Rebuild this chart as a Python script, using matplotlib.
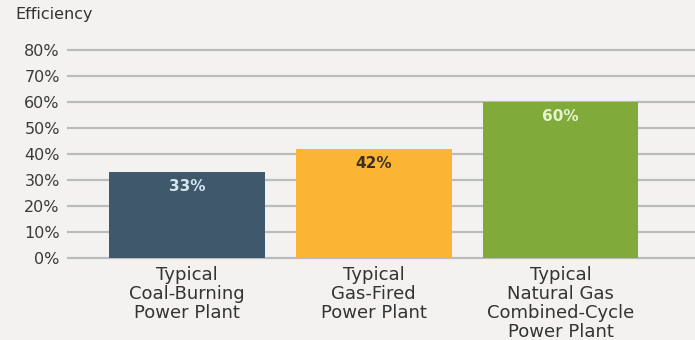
import matplotlib
matplotlib.use("Agg")
import matplotlib.pyplot as plt

categories = ["Typical\nCoal-Burning\nPower Plant",
              "Typical\nGas-Fired\nPower Plant",
              "Typical\nNatural Gas\nCombined-Cycle\nPower Plant"]
values = [33, 42, 60]
value_labels = ["33%", "42%", "60%"]
yticks = [0, 10, 20, 30, 40, 50, 60, 70, 80]
ytick_labels = ["0%", "10%", "20%", "30%", "40%", "50%", "60%", "70%", "80%"]

bar_colors = ["#3f586c", "#fbb434", "#80ab3b"]
label_colors = ["#d3e6f0", "#3a3020", "#e6f3d3"]
bg = "#f3f2f0"

plt.rcParams['font.family'] = ['DejaVu Sans']

fig = plt.figure(figsize=(6.95, 3.4), dpi=100, facecolor=bg)
ax = fig.add_axes([0.098, 0.241, 0.902, 0.612], facecolor=bg)

x = list(range(len(categories)))
ax.set_xlim(-0.636, 2.72)
ax.set_ylim(0, 80)

for yv in yticks:
    ax.axhline(yv, color="#bcbcbc", lw=1.6, zorder=1, clip_on=False)

ax.bar(x, values, width=0.835, color=bar_colors, zorder=2)

for xi, v, lab, c in zip(x, values, value_labels, label_colors):
    ax.annotate(lab, (xi, v), xytext=(0, -10.5), textcoords="offset points",
                ha="center", va="center", fontsize=11, color=c, fontweight="bold")

ax.set_yticks(yticks)
ax.set_yticklabels(ytick_labels, fontsize=11.5, color="#3a3a3a")
ax.tick_params(axis="y", length=0, pad=6)
ax.set_xticks(x)
ax.set_xticklabels(categories, fontsize=13, color="#333333", linespacing=1.07)
ax.tick_params(axis="x", length=0, pad=5.5)

for s in ax.spines.values():
    s.set_visible(False)

fig.text(15 / 695, 1 - 15 / 340, "Efficiency", fontsize=11.5, color="#333333",
         ha="left", va="center")

fig.savefig("out.png", dpi=100, facecolor=bg)
